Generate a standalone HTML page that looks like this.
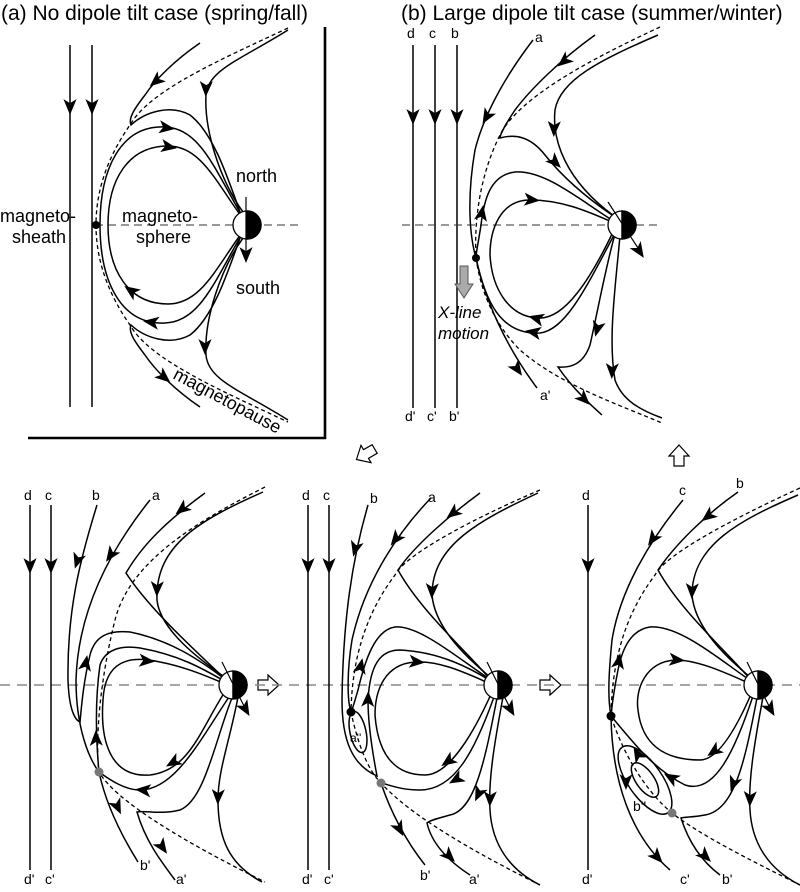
<!DOCTYPE html>
<html><head><meta charset="utf-8"><style>
html,body{margin:0;padding:0;background:#fff;}
svg{display:block;font-family:"Liberation Sans",Arial,sans-serif;}
</style></head><body>
<svg width="800" height="892" viewBox="0 0 800 892" xmlns="http://www.w3.org/2000/svg">
<defs>
<path id="ah" d="M5,0 L-7,-5 L-4,0 L-7,5Z" fill="#000"/>
<g id="earth"><circle cx="0" cy="0" r="14" fill="#fff" stroke="#000" stroke-width="1.3"/><path d="M0,-14 A14,14 0 0 1 0,14 Z" fill="#000"/></g>
<path id="blk" d="M-10,-5 H0 V-10 L11,0 L0,10 V5 H-10 Z" fill="#fff" stroke="#000" stroke-width="1.2"/>
</defs>
<g fill="none" stroke="#000" stroke-width="1.5">

<!-- ========== PANEL A ========== -->
<text x="1" y="20" font-size="21" fill="#000" stroke="none">(a)  No dipole tilt case (spring/fall)</text>
<path d="M325,27 V439 M28,438 H326" stroke-width="2.6"/>
<path d="M70,45 V407 M92,45 V407"/>
<use href="#ah" transform="translate(70,108) rotate(90)"/>
<use href="#ah" transform="translate(92,108) rotate(90)"/>
<path d="M95,225 H300" stroke="#333" stroke-width="1" stroke-dasharray="8,5"/>
<path d="M288,28 C220,60 150,90 130,125 C102,165 96,200 96,225 C96,250 102,285 130,325 C150,360 220,390 288,422" stroke-dasharray="4,3" stroke-width="1.3"/>
<path d="M200,43 C175,60 155,80 145,95 C135,108 128,118 131,125 C145,112 170,104 190,115 C212,132 226,172 240,212"/>
<use href="#ah" transform="translate(155,82) rotate(140)"/>
<path d="M288,30 C240,60 208,70 206,95 C204,130 220,180 243,212"/>
<use href="#ah" transform="translate(206,90) rotate(92)"/>
<path d="M241,214 C215,170 200,128 165,127 C120,125 100,170 100,225 C100,280 120,325 165,323 C200,322 215,280 241,236"/>
<use href="#ah" transform="translate(168,128) rotate(8)"/>
<use href="#ah" transform="translate(150,322) rotate(188)"/>
<path d="M241,216 C215,180 200,146 168,146 C128,146 108,180 108,225 C108,270 128,304 168,304 C200,304 215,270 241,234"/>
<use href="#ah" transform="translate(170,147) rotate(10)"/>
<use href="#ah" transform="translate(130,290) rotate(215)"/>
<path d="M200,407 C175,390 155,370 145,355 C135,342 128,332 131,325 C145,338 170,346 190,335 C212,318 226,278 240,238"/>
<use href="#ah" transform="translate(165,378) rotate(40)"/>
<path d="M288,420 C240,390 208,380 206,355 C204,320 220,270 243,238"/>
<use href="#ah" transform="translate(205,348) rotate(90)"/>
<circle cx="96" cy="225" r="4" fill="#000" stroke="none"/>
<use href="#earth" transform="translate(247,225)"/>
<path d="M246,197 V252" stroke-width="1.2"/>
<use href="#ah" transform="translate(246,256) rotate(90)"/>
<g fill="#000" stroke="none" font-size="18">
<text x="236" y="182">north</text>
<text x="236" y="294">south</text>
<text x="0" y="222">magneto-</text>
<text x="12" y="243">sheath</text>
<text x="122" y="222">magneto-</text>
<text x="136" y="243">sphere</text>
<text x="0" y="0" transform="translate(172,378) rotate(28)">magnetopause</text>
</g>

<!-- ========== PANEL B ========== -->
<text x="401" y="20" font-size="21" fill="#000" stroke="none">(b) Large dipole tilt case (summer/winter)</text>
<path d="M413,45 V408 M435,45 V408 M457,45 V408"/>
<use href="#ah" transform="translate(413,118) rotate(90)"/>
<use href="#ah" transform="translate(435,118) rotate(90)"/>
<use href="#ah" transform="translate(457,118) rotate(90)"/>
<path d="M402,225 H658" stroke="#333" stroke-width="1" stroke-dasharray="8,5"/>
<path d="M660,27 C600,55 520,95 500,135 C480,175 474,220 476,258 C482,300 500,330 520,350 C560,385 620,405 662,423" stroke-dasharray="4,3" stroke-width="1.3"/>
<path d="M533,40 C510,70 485,110 475,150 C468,190 468,230 476,258 C485,300 505,345 537,388"/>
<use href="#ah" transform="translate(486,118) rotate(120)"/>
<use href="#ah" transform="translate(518,370) rotate(55)"/>
<path d="M595,35 C560,60 530,90 515,110 C505,125 500,135 500,138 C515,134 530,136 545,155 C565,180 590,200 612,215"/>
<use href="#ah" transform="translate(563,62) rotate(140)"/>
<use href="#ah" transform="translate(556,163) rotate(45)"/>
<path d="M658,35 C600,60 560,80 555,110 C552,140 565,180 614,216"/>
<use href="#ah" transform="translate(554,130) rotate(92)"/>
<path d="M612,220 C580,200 545,170 515,172 C490,175 484,200 481,225 C478,245 476,252 476,258"/>
<use href="#ah" transform="translate(482,212) rotate(-80)"/>
<path d="M476,258 C485,300 500,335 540,333 C565,330 585,290 614,235"/>
<use href="#ah" transform="translate(532,332) rotate(190)"/>
<path d="M612,222 C585,210 560,200 530,200 C500,200 490,230 490,255 C492,290 510,318 540,318 C565,318 590,280 613,232"/>
<use href="#ah" transform="translate(533,200) rotate(5)"/>
<use href="#ah" transform="translate(535,318) rotate(195)"/>
<path d="M615,234 C605,270 598,310 590,345 C583,365 570,368 558,367 C570,385 585,400 602,415"/>
<use href="#ah" transform="translate(597,330) rotate(105)"/>
<use href="#ah" transform="translate(585,400) rotate(45)"/>
<path d="M620,236 C615,290 608,340 615,380 C622,400 640,410 662,418"/>
<use href="#ah" transform="translate(612,372) rotate(92)"/>
<circle cx="476" cy="258" r="4" fill="#000" stroke="none"/>
<use href="#earth" transform="translate(622,225)"/>
<path d="M608,202 L638,248" stroke-width="1.2"/>
<use href="#ah" transform="translate(640,252) rotate(57)"/>
<path d="M460,266 H468 V284 H473 L464,298 L455,284 H460 Z" fill="#aaa" stroke="#555" stroke-width="1"/>
<g fill="#000" stroke="none" font-size="14">
<text x="407" y="38">d</text><text x="429" y="38">c</text><text x="451" y="38">b</text>
<text x="535" y="42">a</text>
<text x="405" y="421">d'</text><text x="427" y="421">c'</text><text x="449" y="421">b'</text>
<text x="540" y="400">a'</text>
<text x="438" y="318" font-size="17" font-style="italic">X-line</text>
<text x="438" y="339" font-size="17" font-style="italic">motion</text>
</g>

<!-- transition arrows -->
<use href="#blk" transform="translate(366,454) rotate(150)"/>
<use href="#blk" transform="translate(679,456) rotate(-90)"/>
<use href="#blk" transform="translate(268,685)"/>
<use href="#blk" transform="translate(550,685)"/>

<path d="M0,685 H800" stroke="#888" stroke-width="1.5" stroke-dasharray="10,7"/>

<!-- ========== BOTTOM LEFT ========== -->
<path d="M30,505 V870 M51,505 V870"/>
<use href="#ah" transform="translate(30,567) rotate(90)"/>
<use href="#ah" transform="translate(51,567) rotate(90)"/>
<path d="M265,487 C200,520 130,560 115,620 C100,680 95,740 99,772 C115,800 180,840 265,882" stroke-dasharray="4,3" stroke-width="1.3"/>
<path d="M263,492 C200,520 155,545 157,600 C160,630 200,660 226,678"/>
<use href="#ah" transform="translate(157,590) rotate(92)"/>
<path d="M205,493 C175,515 145,540 126,573 C150,610 195,650 226,680"/>
<use href="#ah" transform="translate(181,510) rotate(142)"/>
<path d="M97,505 C80,560 67,610 68,680 C69,710 75,720 80,722 C82,700 84,680 90,655 C95,635 110,630 130,632 C170,640 200,660 226,680"/>
<use href="#ah" transform="translate(77,562) rotate(108)"/>
<use href="#ah" transform="translate(86,662) rotate(-80)"/>
<path d="M150,500 C110,550 78,610 76,680 C76,730 90,760 99,772"/>
<use href="#ah" transform="translate(110,556) rotate(125)"/>
<path d="M99,772 C96,740 95,700 100,665 C105,650 120,645 140,648 C180,655 205,670 226,682"/>
<use href="#ah" transform="translate(96,737) rotate(-92)"/>
<path d="M226,690 C200,730 190,770 150,775 C110,778 100,740 103,700 C105,660 130,655 160,662 C190,668 210,678 226,684"/>
<use href="#ah" transform="translate(148,661) rotate(5)"/>
<use href="#ah" transform="translate(172,763) rotate(150)"/>
<path d="M229,697 C200,740 175,790 140,790 C125,790 110,780 99,772"/>
<use href="#ah" transform="translate(142,790) rotate(185)"/>
<path d="M99,772 C105,800 118,830 138,862"/>
<use href="#ah" transform="translate(118,808) rotate(65)"/>
<path d="M232,698 C215,740 205,800 180,810 C160,815 145,810 137,812 C145,840 160,860 175,880"/>
<use href="#ah" transform="translate(163,848) rotate(55)"/>
<path d="M238,697 C230,740 218,770 218,800 C218,840 230,865 262,882"/>
<use href="#ah" transform="translate(218,798) rotate(92)"/>
<circle cx="99" cy="772" r="4.5" fill="#777" stroke="none"/>
<use href="#earth" transform="translate(233,685)"/>
<path d="M222,662 L244,706" stroke-width="1.2"/>
<use href="#ah" transform="translate(246,710) rotate(60)"/>
<g fill="#000" stroke="none" font-size="14">
<text x="24" y="500">d</text><text x="45" y="500">c</text><text x="92" y="500">b</text><text x="152" y="500">a</text>
<text x="24" y="884">d'</text><text x="45" y="884">c'</text><text x="140" y="870">b'</text><text x="176" y="884">a'</text>
</g>

<!-- ========== BOTTOM MIDDLE ========== -->
<path d="M308,505 V870 M329,505 V870"/>
<use href="#ah" transform="translate(308,567) rotate(90)"/>
<use href="#ah" transform="translate(329,567) rotate(90)"/>
<path d="M540,490 C470,520 405,555 395,575 C365,615 352,660 351,712 C358,745 368,770 381,783 C410,815 470,850 540,885" stroke-dasharray="4,3" stroke-width="1.3"/>
<path d="M538,493 C480,520 432,545 432,595 C435,630 470,660 491,678"/>
<use href="#ah" transform="translate(432,592) rotate(92)"/>
<path d="M480,493 C450,515 415,545 398,570 C420,610 465,650 491,680"/>
<use href="#ah" transform="translate(452,514) rotate(142)"/>
<path d="M368,505 C352,560 343,620 342,700 C342,740 352,765 377,776 C372,750 368,720 368,700 C370,665 380,650 400,650 C440,652 470,668 491,681"/>
<use href="#ah" transform="translate(355,550) rotate(105)"/>
<use href="#ah" transform="translate(368,698) rotate(-88)"/>
<path d="M431,498 C400,530 365,580 352,640 C347,670 347,700 351,712"/>
<use href="#ah" transform="translate(395,540) rotate(128)"/>
<path d="M491,680 C460,660 420,625 395,627 C375,630 365,660 358,690 C355,700 353,708 351,712"/>
<use href="#ah" transform="translate(361,665) rotate(-78)"/>
<ellipse cx="358" cy="732" rx="8" ry="21" transform="rotate(-12 358 732)"/>
<path d="M491,684 C470,675 440,660 415,662 C385,664 375,690 375,715 C378,755 395,775 425,775 C450,775 475,730 492,692"/>
<use href="#ah" transform="translate(418,662) rotate(5)"/>
<use href="#ah" transform="translate(447,762) rotate(145)"/>
<path d="M494,697 C475,750 455,790 420,790 C400,790 390,785 381,783"/>
<use href="#ah" transform="translate(455,780) rotate(150)"/>
<path d="M381,783 C390,810 405,840 425,865"/>
<use href="#ah" transform="translate(400,830) rotate(62)"/>
<path d="M497,698 C485,760 475,810 450,815 C440,818 430,820 427,823 C432,845 450,862 470,875"/>
<use href="#ah" transform="translate(478,795) rotate(115)"/>
<use href="#ah" transform="translate(450,857) rotate(45)"/>
<path d="M503,697 C495,740 488,780 490,810 C492,845 510,870 540,885"/>
<use href="#ah" transform="translate(490,800) rotate(92)"/>
<circle cx="351" cy="712" r="4.5" fill="#000" stroke="none"/>
<circle cx="381" cy="783" r="4.5" fill="#777" stroke="none"/>
<use href="#earth" transform="translate(498,685)"/>
<path d="M487,662 L509,706" stroke-width="1.2"/>
<use href="#ah" transform="translate(511,710) rotate(60)"/>
<g fill="#000" stroke="none" font-size="14">
<text x="302" y="500">d</text><text x="323" y="500">c</text><text x="370" y="503">b</text><text x="428" y="502">a</text>
<text x="302" y="884">d'</text><text x="324" y="884">c'</text><text x="420" y="880">b'</text><text x="469" y="884">a'</text>
<text x="350" y="742" font-size="12">a''</text>
</g>

<!-- ========== BOTTOM RIGHT ========== -->
<path d="M588,505 V870"/>
<use href="#ah" transform="translate(588,567) rotate(90)"/>
<path d="M800,488 C730,520 665,555 655,575 C625,615 612,660 611,716 C625,760 650,795 672,813 C700,835 750,860 800,885" stroke-dasharray="4,3" stroke-width="1.3"/>
<path d="M798,495 C740,520 692,545 692,595 C695,630 730,660 751,678"/>
<use href="#ah" transform="translate(692,592) rotate(92)"/>
<path d="M738,492 C705,515 675,545 658,570 C680,610 725,650 751,680"/>
<use href="#ah" transform="translate(707,517) rotate(142)"/>
<path d="M683,500 C650,540 620,590 612,640 C608,680 608,700 611,716 C612,780 630,835 670,870"/>
<use href="#ah" transform="translate(652,540) rotate(125)"/>
<use href="#ah" transform="translate(658,858) rotate(48)"/>
<path d="M751,681 C720,660 680,625 650,627 C630,630 622,650 618,670 C614,690 612,705 611,716"/>
<use href="#ah" transform="translate(619,660) rotate(-80)"/>
<path d="M751,684 C730,675 700,660 675,660 C645,662 635,690 638,710 C642,745 665,760 700,760 C720,760 740,720 752,692"/>
<use href="#ah" transform="translate(678,660) rotate(5)"/>
<use href="#ah" transform="translate(713,752) rotate(145)"/>
<path d="M611,716 C635,745 655,770 685,785 C715,795 735,750 753,696"/>
<use href="#ah" transform="translate(670,777) rotate(210)"/>
<ellipse cx="645" cy="780" rx="17" ry="40" transform="rotate(-35 645 780)"/>
<use href="#ah" transform="translate(637,753) rotate(-120)"/>
<use href="#ah" transform="translate(626,783) rotate(90)"/>
<ellipse cx="645" cy="780" rx="9" ry="20" transform="rotate(-35 645 780)"/>
<path d="M757,698 C745,760 735,810 705,815 C695,817 685,817 681,818 C688,840 700,860 720,875"/>
<use href="#ah" transform="translate(733,785) rotate(110)"/>
<use href="#ah" transform="translate(706,857) rotate(45)"/>
<path d="M763,697 C755,740 748,780 750,810 C752,845 770,870 800,885"/>
<use href="#ah" transform="translate(750,800) rotate(92)"/>
<circle cx="611" cy="716" r="4.5" fill="#000" stroke="none"/>
<circle cx="672" cy="813" r="4.5" fill="#777" stroke="none"/>
<use href="#earth" transform="translate(758,685)"/>
<path d="M747,662 L769,706" stroke-width="1.2"/>
<use href="#ah" transform="translate(771,710) rotate(60)"/>
<g fill="#000" stroke="none" font-size="14">
<text x="582" y="500">d</text><text x="679" y="495">c</text><text x="736" y="488">b</text>
<text x="582" y="884">d'</text><text x="680" y="884">c'</text><text x="722" y="884">b'</text>
<text x="633" y="811">b''</text>
</g>
</g>
</svg>
</body></html>
